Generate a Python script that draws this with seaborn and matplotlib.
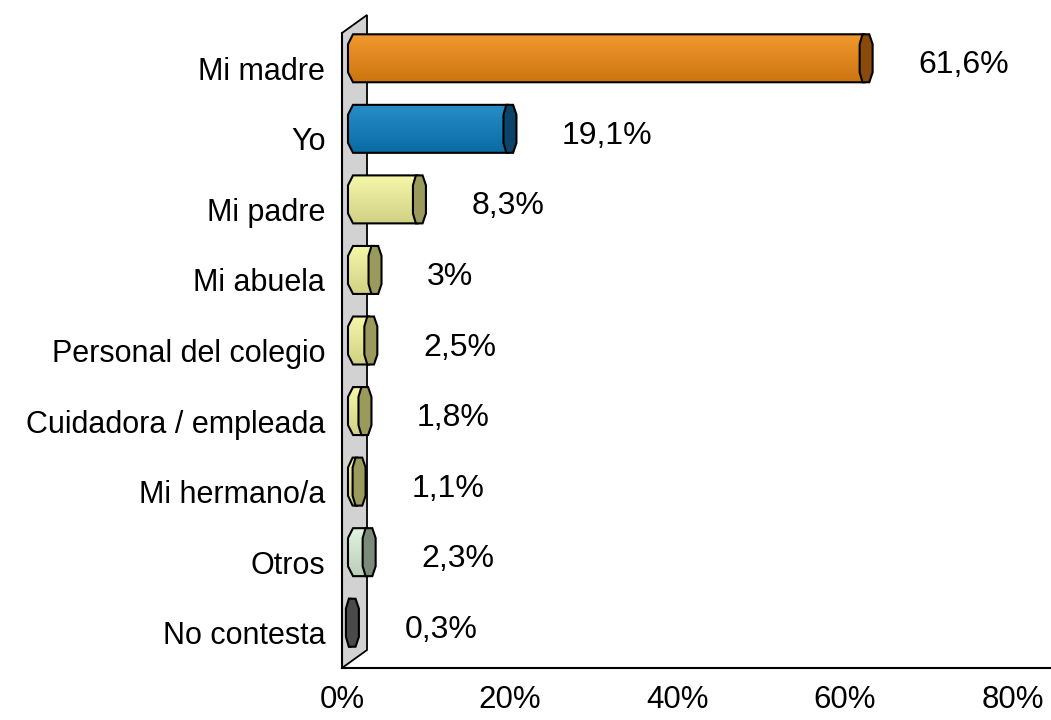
import numpy as np
import matplotlib
matplotlib.use("Agg")
import matplotlib.pyplot as plt
import matplotlib.transforms as mtransforms
from matplotlib.patches import Polygon
from matplotlib.colors import to_rgb
import seaborn as sns

# Datos
categorias = ["Mi madre", "Yo", "Mi padre", "Mi abuela", "Personal del colegio",
              "Cuidadora / empleada", "Mi hermano/a", "Otros", "No contesta"]
porcentajes = [61.6, 19.1, 8.3, 3.0, 2.5, 1.8, 1.1, 2.3, 0.3]
colores = ["#F08A12", "#0A7EC0", "#F6F69E", "#F6F69E", "#F6F69E",
           "#F6F69E", "#F6F69E", "#DCF2DA", "#6A6A6A"]
colores_tapa = ["#8A4A0C", "#0B4468", "#9A9A5C", "#9A9A5C", "#9A9A5C",
                "#9A9A5C", "#9A9A5C", "#7A8C78", "#4A4A4A"]

sns.set_style("white")
plt.rcParams['font.family'] = ['Liberation Sans', 'DejaVu Sans']
plt.rcParams['text.color'] = 'black'
plt.rcParams['xtick.color'] = 'black'
plt.rcParams['ytick.color'] = 'black'

fig = plt.figure(figsize=(10.51, 7.2), dpi=100)
ax = fig.add_axes([342 / 1051, 52 / 720, 709 / 1051, 635 / 720])

sns.barplot(x=porcentajes, y=categorias, hue=categorias, palette=colores,
            legend=False, orient="h", width=0.68, saturation=1, ax=ax)

# pared gris del grafico 3D
dx, dy = 25 / 709, 18 / 635
pared = Polygon([(0, 0), (dx, dy), (dx, 1 + dy), (0, 1)], closed=True,
                transform=ax.transAxes, facecolor="#d2d2d2", edgecolor="black",
                lw=1.3, clip_on=False, zorder=0.5)
ax.add_patch(pared)

# barras con efecto cilindro (desplazadas por la profundidad)
desplaz = ax.transData + mtransforms.ScaledTranslation(0.06, 0.10, fig.dpi_scale_trans)


def mezclar(c, otro, t):
    c = np.array(to_rgb(c))
    return c + (np.array(otro) - c) * t


for p, col, tapa in zip(ax.patches, colores, colores_tapa):
    x0, w = p.get_x(), p.get_width()
    y0, h = p.get_y(), p.get_height()
    x1, y1 = x0 + w, y0 + h
    p.set_visible(False)
    bx = min(0.6, w / 2)
    by = 0.14
    cuerpo = Polygon([(x0 + bx, y0), (x1, y0), (x1, y1), (x0 + bx, y1),
                      (x0, y1 - by), (x0, y0 + by)], closed=True,
                     transform=desplaz, facecolor="none", edgecolor="black",
                     lw=1.5, zorder=3.2)
    ax.add_patch(cuerpo)
    t = np.linspace(0, 1, 60)[:, None, None]
    claro = mezclar(col, (1, 1, 1), 0.12)
    oscuro = mezclar(col, (0, 0, 0), 0.15)
    grad = claro + (oscuro - claro) * t
    im = ax.imshow(grad, extent=(x0, x1, y1, y0), origin="upper", aspect="auto",
                   transform=desplaz, zorder=3.1, interpolation="bilinear")
    im.set_clip_path(cuerpo)
    tapa_poly = Polygon([(x1 - 0.2, y0), (x1 + 0.6, y0), (x1 + 1.0, y0 + by),
                         (x1 + 1.0, y1 - by), (x1 + 0.6, y1), (x1 - 0.2, y1),
                         (x1 - 0.55, y1 - by), (x1 - 0.55, y0 + by)], closed=True,
                        transform=desplaz, facecolor=tapa, edgecolor="black",
                        lw=1.5, zorder=3.3)
    ax.add_patch(tapa_poly)

# etiquetas de valor
for i, v in enumerate(porcentajes):
    texto = f"{v:g}".replace(".", ",") + "%"
    ax.annotate(texto, xy=(v, i), xytext=(60, 3), textcoords="offset pixels",
                ha="left", va="center", fontsize=23, color="black")

ax.set_xlim(0, 84.6)
ax.set_ylim(len(categorias) - 0.5, -0.5)
ax.set_xticks([0, 20, 40, 60, 80])
ax.xaxis.set_major_formatter(matplotlib.ticker.FuncFormatter(lambda v, _: f"{v:.0f}%"))
ax.set_yticks(range(len(categorias)))
ax.set_yticklabels(categorias)
ax.set_yticks(np.arange(-0.5, len(categorias), 1), minor=True)
ax.tick_params(axis="y", which="major", length=0, pad=12, labelsize=22)
ax.tick_params(axis="y", which="minor", length=7, width=1.5, direction="out", color="black")
ax.tick_params(axis="x", which="major", length=8, width=1.5, direction="out",
               color="black", pad=4, labelsize=22.5)
ax.set_xlabel("")
ax.set_ylabel("")

for lado in ["top", "right"]:
    ax.spines[lado].set_visible(False)
for lado in ["left", "bottom"]:
    ax.spines[lado].set_color("black")
    ax.spines[lado].set_linewidth(1.5)
    ax.spines[lado].set_zorder(2)

fig.savefig("out.png", dpi=100)
